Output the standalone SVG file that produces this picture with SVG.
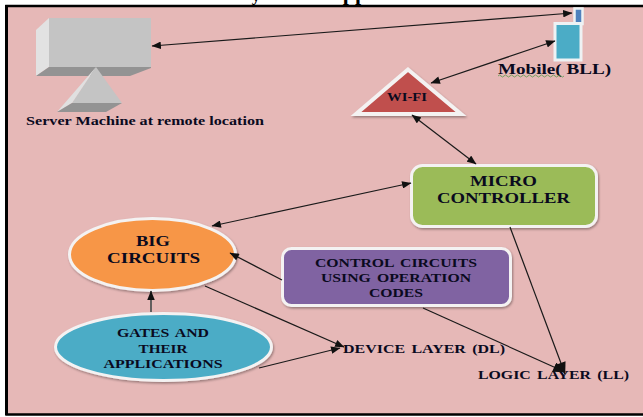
<svg xmlns="http://www.w3.org/2000/svg" width="643" height="417" viewBox="0 0 643 417">
<style>
text{font-family:"Liberation Serif","Times New Roman",serif;font-weight:bold;fill:#0a0a1e;text-anchor:middle}
.l{stroke:#1a1a1a;stroke-width:1.2;fill:none}
.n{stroke:#f4f2f2;stroke-width:3;filter:url(#s)}
.t13{font-size:13.500px;word-spacing:2px}
.t14{font-size:15.500px}
</style>
<defs>
<filter id="s" x="-10%" y="-10%" width="120%" height="125%"><feDropShadow dx="1" dy="1.5" stdDeviation=".8" flood-color="#000" flood-opacity=".35"/></filter>
<marker id="a" viewBox="0 0 10 8" refX="9.500" refY="4" markerWidth="10" markerHeight="7.500" markerUnits="userSpaceOnUse" orient="auto-start-reverse"><path d="M0 0L10 4L0 8Z" fill="#111"/></marker>
<marker id="b" viewBox="0 0 10 8" refX="9.500" refY="4" markerWidth="13" markerHeight="10" markerUnits="userSpaceOnUse" orient="auto"><path d="M0 0L10 4L0 8Z" fill="#111"/></marker>
</defs>
<rect width="643" height="417" fill="#fff"/>
<rect x="6.500" y="6" width="640" height="408" fill="#e6b8b7"/>
<path d="M643 6H6.500V414.500H643" fill="none" stroke="#000" stroke-width="2.500"/>
<rect x="5" y="5" width="3" height="410" fill="#000"/>
<g id="title-fragments"><text x="256" y="1" font-size="17" style="fill:#000">y</text><text x="355" y="0" font-size="22" style="fill:#000">pp</text></g>
<g id="server">
<path d="M49 18H151V67H49Z" fill="#c4c4c4"/><path d="M36 30L49 18V67L36 76Z" fill="#e2e2e2"/><path d="M36 76L49 67H151V68L130 76Z" fill="#939393"/>
<path d="M96 67L122 103H72Z" fill="#c4c4c4"/><path d="M96 67L72 103L57 112Z" fill="#e0e0e0"/><path d="M57 112L72 103H122L106 112Z" fill="#939393"/>
<text x="145" y="125" font-size="13" textLength="238" lengthAdjust="spacingAndGlyphs">Server Machine at remote location</text>
</g>
<g id="mobile">
<rect x="574.500" y="8.500" width="8" height="15.500" fill="#4f81bd" stroke="#eef2f4" stroke-width="2.500"/>
<rect x="555" y="23.500" width="26" height="36.500" fill="#4bacc6" stroke="#eef2f4" stroke-width="3"/>
<text x="554.500" y="74" font-size="15" textLength="113" lengthAdjust="spacingAndGlyphs">Mobile( BLL)</text>
<path d="M498 76q1.500-2 3 0t3 0t3 0t3 0t3 0t3 0t3 0t3 0t3 0t3 0t3 0t3 0t3 0t3 0t3 0t3 0t3 0t3 0t3 0t3 0t3 0t3 0" fill="none" stroke="#5a9a4a" stroke-width=".8"/>
</g>
<g id="wifi">
<path class="n" style="stroke-width:4" d="M408 69.500L356 114H461Z" fill="#c0504d"/>
<text x="407" y="101" font-size="12" textLength="40" lengthAdjust="spacingAndGlyphs">WI-FI</text>
</g>
<g id="micro-controller">
<rect class="n" x="411.500" y="165.500" width="185" height="61" rx="11" fill="#9bbb59"/>
<text class="t14" x="503.500" y="186" textLength="67" lengthAdjust="spacingAndGlyphs">MICRO</text><text class="t14" x="503.500" y="203" textLength="133" lengthAdjust="spacingAndGlyphs">CONTROLLER</text>
</g>
<g id="control-circuits">
<rect class="n" x="282.500" y="248.500" width="228" height="57" rx="9" fill="#8064a2"/>
<text class="t13" x="396" y="267" textLength="162" lengthAdjust="spacingAndGlyphs">CONTROL CIRCUITS</text><text class="t13" x="396" y="282" textLength="150" lengthAdjust="spacingAndGlyphs">USING OPERATION</text><text class="t13" x="396" y="297" textLength="54" lengthAdjust="spacingAndGlyphs">CODES</text>
</g>
<g id="big-circuits">
<ellipse class="n" cx="152.500" cy="254.500" rx="83" ry="36" fill="#f79646"/>
<text class="t14" x="153" y="246" textLength="34" lengthAdjust="spacingAndGlyphs">BIG</text><text class="t14" x="153.500" y="263" textLength="93" lengthAdjust="spacingAndGlyphs">CIRCUITS</text>
</g>
<g id="gates">
<ellipse class="n" cx="163.500" cy="347" rx="108" ry="33.500" fill="#4bacc6"/>
<text class="t13" x="163" y="337" textLength="92" lengthAdjust="spacingAndGlyphs">GATES AND</text><text class="t13" x="163" y="353" textLength="49" lengthAdjust="spacingAndGlyphs">THEIR</text><text class="t13" x="163" y="368" textLength="119" lengthAdjust="spacingAndGlyphs">APPLICATIONS</text>
</g>
<g id="device-layer"><text class="t13" x="424" y="353" textLength="162" lengthAdjust="spacingAndGlyphs">DEVICE LAYER (DL)</text></g>
<g id="logic-layer"><text class="t13" x="553.500" y="379" textLength="151" lengthAdjust="spacingAndGlyphs">LOGIC LAYER (LL)</text></g>
<g id="connectors">
<line class="l" x1="152" y1="46" x2="572" y2="13" marker-start="url(#a)" marker-end="url(#a)"/>
<line class="l" x1="555" y1="41" x2="431" y2="83" marker-start="url(#a)" marker-end="url(#a)"/>
<line class="l" x1="412" y1="115" x2="476" y2="164" marker-start="url(#a)" marker-end="url(#a)"/>
<line class="l" x1="411" y1="183" x2="212" y2="226" marker-start="url(#a)" marker-end="url(#a)"/>
<line class="l" x1="282" y1="280" x2="230" y2="253" marker-end="url(#a)"/>
<line class="l" x1="205" y1="286" x2="344" y2="347" marker-end="url(#a)"/>
<line class="l" x1="151" y1="312" x2="151" y2="291" style="stroke:#555;stroke-width:1.800" marker-end="url(#a)"/>
<line class="l" x1="259" y1="368" x2="340" y2="348" marker-end="url(#a)"/>
<line class="l" x1="423" y1="308" x2="565" y2="372" marker-end="url(#b)"/>
<line class="l" x1="510" y1="227" x2="565" y2="374" marker-end="url(#b)"/>
</g>
</svg>
